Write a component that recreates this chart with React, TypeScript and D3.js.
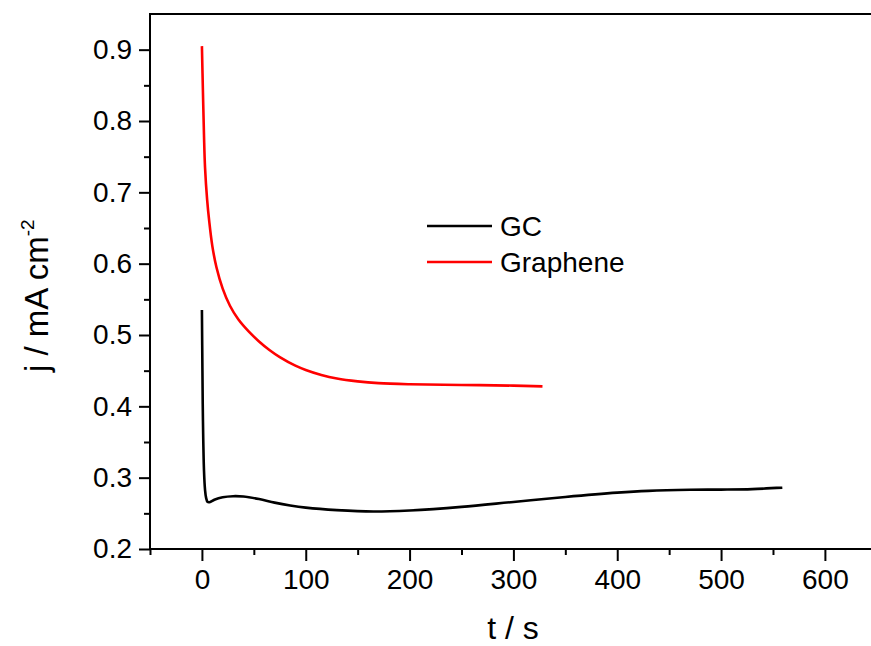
import { useEffect, useRef } from "react";
import * as d3 from "d3";

// GC (glassy carbon) chronoamperometry
const gcTime = [0, 0.5, 1, 2, 3, 4, 5.5, 8, 12, 20, 30, 40, 55, 70, 85, 100, 130, 165, 200, 250, 300, 350, 400, 430, 470, 500, 530, 559];
const gcJ = [0.535, 0.45, 0.38, 0.31, 0.283, 0.272, 0.266, 0.266, 0.269, 0.2725, 0.274, 0.2735, 0.27, 0.265, 0.261, 0.258, 0.2545, 0.2525, 0.254, 0.259, 0.266, 0.273, 0.279, 0.2815, 0.283, 0.2833, 0.284, 0.286];

// Graphene
const grTime = [0, 1, 2, 3, 5, 7, 10, 14, 20, 27, 35, 45, 55, 65, 75, 90, 100, 115, 130, 150, 170, 200, 250, 300, 328];
const grJ = [0.905, 0.84, 0.78, 0.735, 0.69, 0.66, 0.625, 0.595, 0.565, 0.541, 0.522, 0.505, 0.491, 0.479, 0.469, 0.457, 0.451, 0.444, 0.439, 0.435, 0.4325, 0.431, 0.43, 0.429, 0.428];

const xTicks = [0, 100, 200, 300, 400, 500, 600];
const yTicks = [0.2, 0.3, 0.4, 0.5, 0.6, 0.7, 0.8, 0.9];

const seriesNames = ["GC", "Graphene"];
const seriesColors = ["#000000", "#ff0000"];

export default function App() {
  const svgRef = useRef<SVGSVGElement>(null);

  useEffect(() => {
    const svg = d3.select(svgRef.current);
    svg.selectAll("*").remove();

    const width = 871;
    const height = 646;
    const left = 150;
    const top = 14;
    const bottom = 549;
    const font = "'Liberation Sans', Arial, sans-serif";

    const x = d3.scaleLinear().domain([-50, 650]).range([left, left + 700 * 1.0383]);
    const y = d3.scaleLinear().domain([0.2, 0.95]).range([bottom, top]);

    svg.append("rect").attr("width", width).attr("height", height).attr("fill", "#fff");

    // data lines
    const series = [
      gcTime.map((t, i) => [t, gcJ[i]] as [number, number]),
      grTime.map((t, i) => [t, grJ[i]] as [number, number]),
    ];
    const line = d3
      .line<[number, number]>()
      .x((d) => x(d[0]))
      .y((d) => y(d[1]))
      .curve(d3.curveCatmullRom.alpha(0.5));

    series.forEach((s, i) => {
      svg
        .append("path")
        .datum(s)
        .attr("d", line)
        .attr("fill", "none")
        .attr("stroke", seriesColors[i])
        .attr("stroke-width", 2.6)
        .attr("stroke-linejoin", "round");
    });

    // frame: left, top, bottom
    const frame = svg.append("g").attr("stroke", "#000").attr("stroke-width", 2).attr("fill", "none");
    frame.append("line").attr("x1", left).attr("x2", left).attr("y1", top - 1).attr("y2", bottom + 1);
    frame.append("line").attr("x1", left - 1).attr("x2", width).attr("y1", top).attr("y2", top);
    frame.append("line").attr("x1", left - 1).attr("x2", width).attr("y1", bottom).attr("y2", bottom);

    // x axis
    const xAxis = svg
      .append("g")
      .attr("transform", `translate(0,${bottom})`)
      .call(d3.axisBottom(x).tickValues(xTicks).tickSize(12).tickPadding(8).tickFormat(d3.format("d")));
    xAxis.select(".domain").remove();
    xAxis.selectAll("line").attr("stroke-width", 2);
    xAxis.selectAll("text").attr("font-family", font).attr("font-size", 28).attr("fill", "#000");

    const xMinor = d3.range(-50, 651, 100).filter((v) => x(v) <= width);
    svg
      .append("g")
      .attr("transform", `translate(0,${bottom})`)
      .call(d3.axisBottom(x).tickValues(xMinor).tickSize(6).tickFormat(() => ""))
      .call((g) => g.select(".domain").remove())
      .selectAll("line")
      .attr("stroke-width", 2);

    // y axis
    const yAxis = svg
      .append("g")
      .attr("transform", `translate(${left},0)`)
      .call(d3.axisLeft(y).tickValues(yTicks).tickSize(11).tickPadding(7).tickFormat(d3.format(".1f")));
    yAxis.select(".domain").remove();
    yAxis.selectAll("line").attr("stroke-width", 2);
    yAxis.selectAll("text").attr("font-family", font).attr("font-size", 28).attr("fill", "#000");

    const yMinor = [0.25, 0.35, 0.45, 0.55, 0.65, 0.75, 0.85];
    svg
      .append("g")
      .attr("transform", `translate(${left},0)`)
      .call(d3.axisLeft(y).tickValues(yMinor).tickSize(6).tickFormat(() => ""))
      .call((g) => g.select(".domain").remove())
      .selectAll("line")
      .attr("stroke-width", 2);

    // axis titles
    svg
      .append("text")
      .attr("x", 513)
      .attr("y", 639)
      .attr("text-anchor", "middle")
      .attr("font-family", font)
      .attr("font-size", 32)
      .text("t / s");

    const yTitle = svg
      .append("text")
      .attr("transform", "translate(48,372) rotate(-90)")
      .attr("font-family", font)
      .attr("font-size", 33);
    yTitle.append("tspan").text("j / mA cm");
    yTitle.append("tspan").attr("dy", -14).attr("font-size", 19).text("-2");

    // legend
    const legend = svg.append("g").attr("transform", "translate(427,226)");
    seriesNames.forEach((name, i) => {
      const g = legend.append("g").attr("transform", `translate(0,${i * 36})`);
      g.append("line").attr("x1", 0).attr("x2", 65).attr("stroke", seriesColors[i]).attr("stroke-width", 2.6);
      g.append("text")
        .attr("x", 73)
        .attr("y", 10)
        .attr("font-family", font)
        .attr("font-size", 28)
        .text(name);
    });
  }, []);

  return (
    <svg
      ref={svgRef}
      width={871}
      height={646}
      style={{ position: "absolute", left: 0, top: 0 }}
    />
  );
}
